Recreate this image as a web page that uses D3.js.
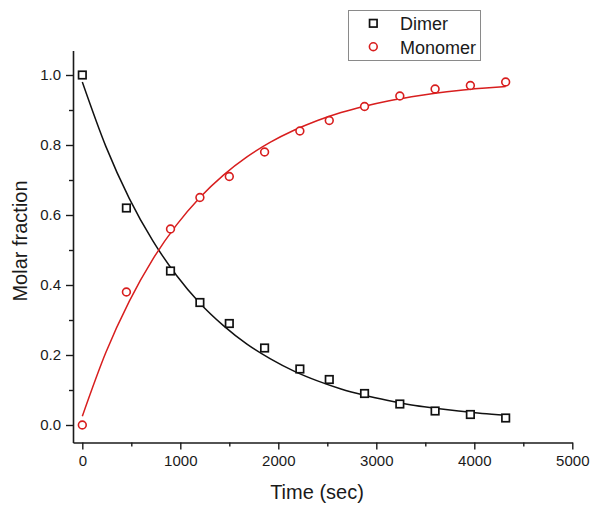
<!DOCTYPE html>
<html><head><meta charset="utf-8">
<script src="https://cdn.jsdelivr.net/npm/d3@7/dist/d3.min.js"></script>
<style>
html,body{margin:0;padding:0;background:#fff;}
svg{display:block;font-family:Arial,"Liberation Sans",sans-serif;}
</style></head>
<body><svg id="chart" width="594" height="506"></svg>
<script>
// Measured data (time in s)
const times = [0, 450, 900, 1200, 1500, 1860, 2220, 2520, 2880, 3240, 3600, 3960, 4320];
const dimer = [1.0, 0.62, 0.44, 0.35, 0.29, 0.22, 0.16, 0.13, 0.09, 0.06, 0.04, 0.03, 0.02];
const monomer = [0.0, 0.38, 0.56, 0.65, 0.71, 0.78, 0.84, 0.87, 0.91, 0.94, 0.96, 0.97, 0.98];
// Fitted curves
const fitTimes = [0, 240, 480, 720, 960, 1200, 1440, 1680, 1920, 2160, 2400, 2640, 2880, 3120, 3360, 3600, 3840, 4080, 4320];
const dimerFit = [0.98, 0.796, 0.647, 0.526, 0.428, 0.348, 0.284, 0.231, 0.189, 0.154, 0.126, 0.103, 0.085, 0.070, 0.057, 0.048, 0.040, 0.033, 0.028];
const monomerFit = [0.025, 0.207, 0.354, 0.474, 0.571, 0.650, 0.714, 0.766, 0.808, 0.842, 0.870, 0.893, 0.911, 0.926, 0.938, 0.948, 0.956, 0.962, 0.967];
// Axis ticks
const xMajor = [0, 1000, 2000, 3000, 4000, 5000];
const xMinor = [500, 1500, 2500, 3500, 4500];
const yMajor = [0.0, 0.2, 0.4, 0.6, 0.8, 1.0];
const yMinor = [0.1, 0.3, 0.5, 0.7, 0.9];
const seriesNames = ["Dimer", "Monomer"];

const svg = d3.select("#chart");
const x = d3.scaleLinear().domain([-95, 5000]).range([73, 572.3]);
const y = d3.scaleLinear().domain([-0.05, 1.07]).range([442.5, 50.5]);
const axisColor = "#1a1a1a";
const red = "#d81e1e";

// X axis
const gx = svg.append("g").attr("transform", "translate(0,442.5)");
gx.call(d3.axisBottom(x).tickValues(xMajor).tickFormat(d3.format("d")).tickSizeInner(7).tickSizeOuter(0).tickPadding(6));
gx.append("g").call(d3.axisBottom(x).tickValues(xMinor).tickFormat("").tickSizeInner(4).tickSizeOuter(0))
  .select(".domain").remove();
// Y axis
const gy = svg.append("g").attr("transform", "translate(73,0)");
gy.call(d3.axisLeft(y).tickValues(yMajor).tickFormat(d3.format(".1f")).tickSizeInner(7).tickSizeOuter(0).tickPadding(5));
gy.append("g").call(d3.axisLeft(y).tickValues(yMinor).tickFormat("").tickSizeInner(4).tickSizeOuter(0))
  .select(".domain").remove();

svg.selectAll(".domain").attr("stroke", axisColor).attr("stroke-width", 1.6);
svg.selectAll(".tick line").attr("stroke", axisColor).attr("stroke-width", 1.4);
svg.selectAll(".tick text").attr("font-size", 15).attr("fill", "#1a1a1a")
  .attr("font-family", "Arial, 'Liberation Sans', sans-serif");

// Axis titles
svg.append("text").attr("x", 317).attr("y", 499).attr("text-anchor", "middle")
  .attr("font-size", 20).attr("fill", "#1a1a1a").text("Time (sec)");
svg.append("text").attr("transform", "translate(27,241) rotate(-90)").attr("text-anchor", "middle")
  .attr("font-size", 20).attr("fill", "#1a1a1a").text("Molar fraction");

// Curves
const line = d3.line().x(d => x(d[0])).y(d => y(d[1])).curve(d3.curveMonotoneX);
svg.append("path").datum(fitTimes.map((t, i) => [t, dimerFit[i]]))
  .attr("d", line).attr("fill", "none").attr("stroke", "#111").attr("stroke-width", 1.5);
svg.append("path").datum(fitTimes.map((t, i) => [t, monomerFit[i]]))
  .attr("d", line).attr("fill", "none").attr("stroke", red).attr("stroke-width", 1.5);

// Markers
const sq = 7.5;
svg.append("g").selectAll("rect").data(times.map((t, i) => [t, dimer[i]])).join("rect")
  .attr("x", d => x(d[0]) - sq / 2).attr("y", d => y(d[1]) - sq / 2)
  .attr("width", sq).attr("height", sq)
  .attr("fill", "#fff").attr("stroke", "#111").attr("stroke-width", 1.7);
svg.append("g").selectAll("circle").data(times.map((t, i) => [t, monomer[i]])).join("circle")
  .attr("cx", d => x(d[0])).attr("cy", d => y(d[1])).attr("r", 3.9)
  .attr("fill", "#fff").attr("stroke", red).attr("stroke-width", 1.6);

// Legend
const lg = svg.append("g");
lg.append("rect").attr("x", 348.5).attr("y", 10.5).attr("width", 132).attr("height", 50)
  .attr("fill", "#fff").attr("stroke", "#8a8a8a").attr("stroke-width", 1);
lg.append("rect").attr("x", 373.3 - sq / 2).attr("y", 23.3 - sq / 2).attr("width", sq).attr("height", sq)
  .attr("fill", "#fff").attr("stroke", "#111").attr("stroke-width", 1.7);
lg.append("circle").attr("cx", 373.3).attr("cy", 46.7).attr("r", 3.9)
  .attr("fill", "#fff").attr("stroke", red).attr("stroke-width", 1.6);
lg.append("text").attr("x", 400).attr("y", 30).attr("font-size", 18).attr("fill", "#1a1a1a").text(seriesNames[0]);
lg.append("text").attr("x", 400).attr("y", 53.5).attr("font-size", 18).attr("fill", "#1a1a1a").text(seriesNames[1]);
</script></body></html>
